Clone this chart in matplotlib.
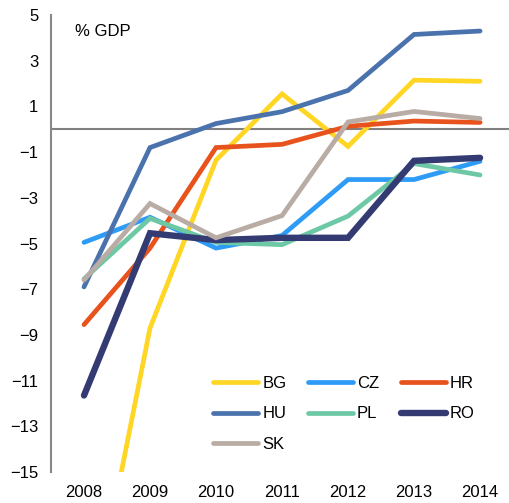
import matplotlib
matplotlib.use("Agg")
import matplotlib.pyplot as plt

plt.rcParams['font.family'] = ['Liberation Sans', 'DejaVu Sans']

years = ["2008", "2009", "2010", "2011", "2012", "2013", "2014"]
BG = [-23.2, -8.7, -1.35, 1.55, -0.75, 2.15, 2.1]
CZ = [-4.95, -3.85, -5.2, -4.65, -2.2, -2.2, -1.4]
HR = [-8.55, -5.2, -0.8, -0.66, 0.13, 0.36, 0.3]
HU = [-6.9, -0.8, 0.25, 0.77, 1.7, 4.15, 4.3]
PL = [-6.55, -3.9, -4.95, -5.05, -3.8, -1.5, -2.0]
RO = [-11.65, -4.55, -4.85, -4.75, -4.75, -1.38, -1.25]
SK = [-6.6, -3.25, -4.75, -3.78, 0.32, 0.78, 0.47]

series = ["BG", "CZ", "HR", "HU", "PL", "RO", "SK"]
values = {"BG": BG, "CZ": CZ, "HR": HR, "HU": HU, "PL": PL, "RO": RO, "SK": SK}
colors = {"BG": "#FFD624", "CZ": "#2E9CF6", "HR": "#E8521C", "HU": "#4A72AC",
          "PL": "#6DC8A6", "RO": "#333B72", "SK": "#B8ACA4"}
widths = {"BG": 3.4, "CZ": 3.4, "HR": 3.4, "HU": 3.4, "PL": 3.4, "RO": 4.6, "SK": 3.4}

fig = plt.figure(figsize=(5.10, 5.03), dpi=100)
ax = fig.add_axes([0.1, 0.0616, 0.906, 0.9085])

x = list(range(len(years)))
lines = {}
for s in series:
    ln, = ax.plot(x, values[s], color=colors[s], lw=widths[s], label=s,
                  solid_capstyle='round', solid_joinstyle='miter')
    lines[s] = ln

ax.axhline(0, color="#808080", lw=1.5, zorder=0.5)
ax.set_xlim(-0.5, 6.5)
ax.set_ylim(-15, 5)
ax.set_yticks(list(range(-15, 6, 2)))
ax.set_xticks(x)
ax.set_xticklabels(years)
ax.tick_params(length=0, labelsize=12, colors="black")
ax.tick_params(axis='y', pad=9)
ax.tick_params(axis='x', pad=9)
for sp in ["top", "right", "bottom"]:
    ax.spines[sp].set_visible(False)
ax.spines["left"].set_color("#888888")
ax.spines["left"].set_linewidth(1.5)

ax.text(75 / 510, 1 - 32 / 503, "% GDP", transform=fig.transFigure,
        fontsize=12, va="center", ha="left")

order = ["BG", "HU", "SK", "CZ", "PL", "HR", "RO"]
leg = fig.legend([lines[s] for s in order], order, ncol=3, frameon=False,
                 loc="upper left", bbox_to_anchor=(213 / 510, 1 - 376 / 503),
                 borderpad=0, borderaxespad=0, fontsize=12, handlelength=2.7,
                 handletextpad=0.25, columnspacing=1.3, labelspacing=0.92)

fig.savefig("out.png", dpi=100)
